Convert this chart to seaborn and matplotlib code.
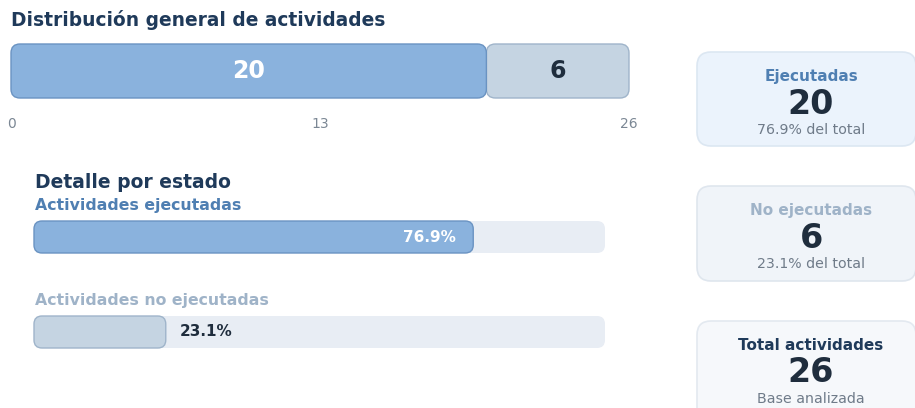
import numpy as np
import pandas as pd
import matplotlib
matplotlib.use("Agg")
import matplotlib.pyplot as plt
import seaborn as sns
from matplotlib.patches import FancyBboxPatch

# ==========================================
# DATA
# ==========================================

estados = ["Ejecutadas", "No ejecutadas"]
cantidades = [20, 6]
etiquetas_detalle = ["Actividades ejecutadas", "Actividades no ejecutadas"]
ticks_total = [0, 13, 26]
tarjeta_titulos = ["Ejecutadas", "No ejecutadas", "Total actividades"]
tarjeta_sub_total = "Base analizada"

total = sum(cantidades)
porcentajes = [c / total * 100 for c in cantidades]

# ==========================================
# STYLE
# ==========================================

AZUL = "#8ab2dd"
AZUL_BORDE = "#6a93c2"
GRIS = "#c5d4e2"
GRIS_BORDE = "#9fb4ca"
PISTA = "#e8edf4"
NAVY = "#1f3a5a"
OSCURO = "#1f2d3d"
TXT_GRIS = "#6f7b89"
LBL_AZUL = "#4f7fb2"
LBL_GRIS = "#9fb3c8"

sns.set_theme(style="white")
plt.rcParams["font.family"] = ["DejaVu Sans"]

W, H = 915, 408
fig = plt.figure(figsize=(W / 100, H / 100), dpi=100)


def px_axes(left, top, right, bottom):
    return fig.add_axes([left / W, 1 - bottom / H, (right - left) / W, (bottom - top) / H])


def redondear(ax, radio_px, lw=1.0):
    sx = abs(ax.transData.transform((1, 0))[0] - ax.transData.transform((0, 0))[0])
    sy = abs(ax.transData.transform((0, 1))[1] - ax.transData.transform((0, 0))[1])
    for p in list(ax.patches):
        caja = FancyBboxPatch(
            (p.get_x(), p.get_y()), p.get_width(), p.get_height(),
            boxstyle=f"round,pad=0,rounding_size={radio_px / sx}",
            mutation_aspect=sx / sy,
            facecolor=p.get_facecolor(), edgecolor=p.get_edgecolor(),
            linewidth=lw if p.get_linewidth() > 0 else 0,
            zorder=p.get_zorder(), clip_on=False,
        )
        p.remove()
        ax.add_patch(caja)


bg = fig.add_axes([0, 0, 1, 1], zorder=0)
bg.set_xlim(0, W)
bg.set_ylim(H, 0)
bg.axis("off")

# ==========================================
# TOP: STACKED BAR
# ==========================================

ax1 = px_axes(11, 44, 629, 98)
ax1.set_facecolor("none")
fila = ["general"]
sns.barplot(x=[total], y=fila, color=GRIS, width=1.0, ax=ax1, saturation=1,
            edgecolor=GRIS_BORDE, linewidth=1)
sns.barplot(x=[cantidades[0]], y=fila, color=AZUL, width=1.0, ax=ax1, saturation=1,
            edgecolor=AZUL_BORDE, linewidth=1)
ax1.set_xlim(0, total)
ax1.set_ylim(0.5, -0.5)
# grey segment starts where the blue one ends
gris_patch = ax1.patches[0]
gris_patch.set_x(cantidades[0])
gris_patch.set_width(cantidades[1])

ax1.set_xticks(ticks_total)
ax1.set_xticklabels([str(t) for t in ticks_total])
ax1.set_yticks([])
ax1.set_xlabel("")
ax1.set_ylabel("")
ax1.tick_params(axis="x", length=0, labelsize=10, labelcolor="#7b8794", pad=14)
sns.despine(ax=ax1, left=True, bottom=True)

inicio = np.cumsum([0] + cantidades[:-1])
for x0, c, col in zip(inicio, cantidades, ["white", OSCURO]):
    ax1.text(x0 + c / 2, 0, str(c), ha="center", va="center",
             fontsize=17, fontweight="bold", color=col)

bg.text(11, 20, "Distribución general de actividades", fontsize=13.4,
        fontweight="bold", color=NAVY, ha="left", va="center")

# ==========================================
# DETAIL BARS
# ==========================================

ax2 = px_axes(34, 189.5, 605, 379.5)
ax2.set_facecolor("none")
alto = 32 / 95
sns.barplot(x=[100] * len(etiquetas_detalle), y=etiquetas_detalle, color=PISTA,
            width=alto, ax=ax2, linewidth=0, saturation=1)
sns.barplot(x=porcentajes, y=etiquetas_detalle, hue=etiquetas_detalle,
            palette=[AZUL, GRIS], width=alto, ax=ax2, legend=False, linewidth=1,
            saturation=1)
for p, borde in zip(ax2.patches[2:], [AZUL_BORDE, GRIS_BORDE]):
    p.set_edgecolor(borde)
ax2.set_xlim(0, 100)
ax2.set_ylim(1.5, -0.5)
ax2.set_xticks([])
ax2.set_yticks([])
ax2.set_xlabel("")
ax2.set_ylabel("")
sns.despine(ax=ax2, left=True, bottom=True)

colores_lbl = [LBL_AZUL, LBL_GRIS]
for i, (lbl, pct) in enumerate(zip(etiquetas_detalle, porcentajes)):
    ax2.text(0.2, i - 0.33, lbl, fontsize=11.3, fontweight="bold",
             color=colores_lbl[i], ha="left", va="center")
    if pct > 50:
        ax2.text(pct - 3, i, f"{pct:.1f}%", fontsize=11, fontweight="bold",
                 color="white", ha="right", va="center")
    else:
        ax2.text(pct + 2.5, i, f"{pct:.1f}%", fontsize=11, fontweight="bold",
                 color=OSCURO, ha="left", va="center")

bg.text(35, 183, "Detalle por estado", fontsize=13.5, fontweight="bold",
        color=NAVY, ha="left", va="center")

redondear(ax1, 9)
redondear(ax2, 8)

# ==========================================
# CARDS
# ==========================================

tarjeta_valores = cantidades + [total]
tarjeta_subs = [f"{p:.1f}% del total" for p in porcentajes] + [tarjeta_sub_total]
tarjeta_colores = [LBL_AZUL, LBL_GRIS, NAVY]
tarjeta_fondos = ["#ebf3fc", "#f0f4f9", "#f6f8fb"]
tarjeta_bordes = ["#dce7f2", "#dfe6ee", "#e3e9f0"]
tarjeta_top = [52, 186, 321]
tarjeta_alto = [94, 95, 120]

for titulo, valor, sub, col, fondo, borde, top, alto_t in zip(
        tarjeta_titulos, tarjeta_valores, tarjeta_subs, tarjeta_colores,
        tarjeta_fondos, tarjeta_bordes, tarjeta_top, tarjeta_alto):
    bg.add_patch(FancyBboxPatch((697, top), 219, alto_t,
                                boxstyle="round,pad=0,rounding_size=14",
                                facecolor=fondo, edgecolor=borde, linewidth=1.2))
    bg.text(811, top + 25, titulo, fontsize=11, fontweight="bold", color=col,
            ha="center", va="center")
    bg.text(811, top + 52, str(valor), fontsize=24, fontweight="bold",
            color=OSCURO, ha="center", va="center")
    bg.text(811, top + 78, sub, fontsize=10.2, color=TXT_GRIS,
            ha="center", va="center")

fig.savefig("out.png", dpi=100)
